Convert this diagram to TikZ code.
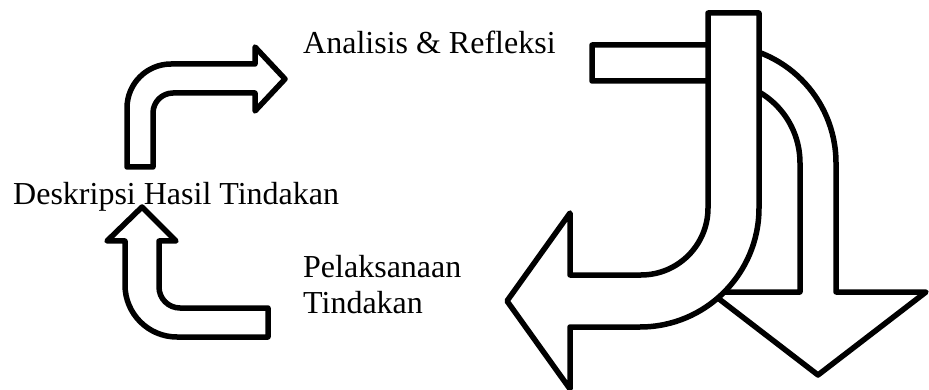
\documentclass[tikz,border=0pt]{standalone}
\usepackage{fontspec}
\setmainfont{Liberation Serif}
\begin{document}
\begin{tikzpicture}[x=1pt,y=-1pt,
  bigarrow/.style={draw=black,fill=white,line width=5.5pt,line join=round},
  lbl/.style={anchor=base west,inner sep=0pt,font=\fontsize{32}{36}\selectfont}]
\useasboundingbox (0,0) rectangle (929,390);

% upper-left bent arrow (up then right)
\draw[bigarrow] (127,167) -- (127,108)
  .. controls (127,83.7) and (146.7,64) .. (171,64)
  -- (255,64) -- (255,47) -- (285,79) -- (255,111) -- (255,93) -- (173,93)
  .. controls (162,93) and (153,102) .. (153,113)
  -- (153,167) -- cycle;

% lower-left bent arrow (left then up)
\draw[bigarrow] (142,207) -- (176,241) -- (159,241) -- (159,287)
  .. controls (159,298.6) and (168.4,308) .. (180,308)
  -- (268,308) -- (268,337) -- (177,337)
  .. controls (148.3,337) and (125,313.7) .. (125,285)
  -- (125,241) -- (107,241) -- cycle;

% large down-pointing bent arrow (behind)
\draw[bigarrow] (592,45) -- (718,45)
  .. controls (783.2,45) and (836,97.8) .. (836,163)
  -- (836,292) -- (926,292) -- (818,375) -- (710,292) -- (800,292) -- (800,163)
  .. controls (800,117.7) and (763.3,81) .. (718,81)
  -- (592,81) -- cycle;

% large J arrow pointing left (front)
\draw[bigarrow] (708,13) -- (759,13) -- (759,208)
  .. controls (759,273.7) and (705.7,327) .. (640,327)
  -- (570,327) -- (570,389) -- (507,301) -- (570,213) -- (570,275) -- (641,275)
  .. controls (678,275) and (708,245) .. (708,208)
  -- cycle;

\node[lbl] (desk) at (13,205) {Deskripsi Hasil Tindakan};
\node[lbl] (anal) at (303,54) {Analisis \& Refleksi};
\node[lbl] (pel1) at (303,277) {Pelaksanaan};
\node[lbl] (pel2) at (303,313) {Tindakan};
\end{tikzpicture}
\end{document}
